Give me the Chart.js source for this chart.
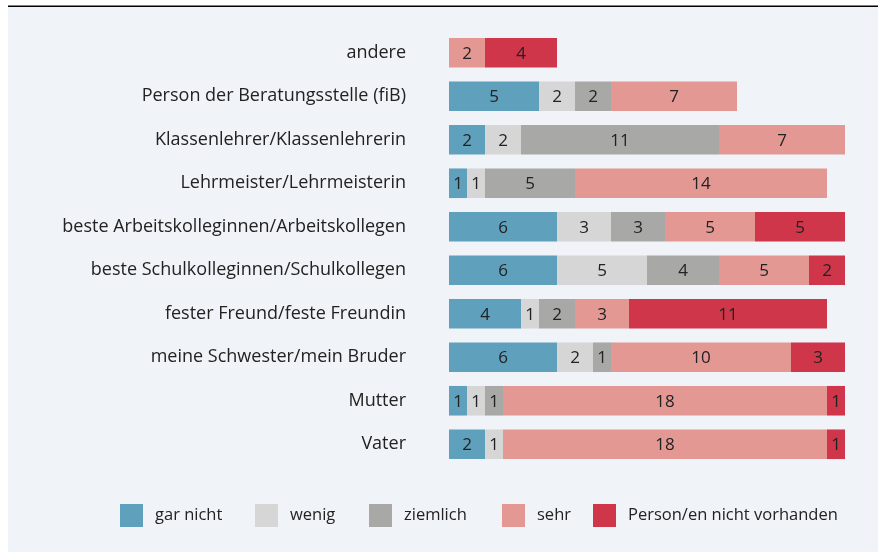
<!DOCTYPE html>
<html><head><meta charset="utf-8">
<script src="https://cdn.jsdelivr.net/npm/chart.js@4/dist/chart.umd.min.js"></script>
<style>html,body{margin:0;padding:0;background:#fff}#wrap{width:879px;height:552px;position:relative}canvas{display:block}</style>
</head><body><div id="wrap"><canvas id="c" width="879" height="552" style="width:879px;height:552px"></canvas></div>
<script>
const categories = [
  'andere',
  'Person der Beratungsstelle (fiB)',
  'Klassenlehrer/Klassenlehrerin',
  'Lehrmeister/Lehrmeisterin',
  'beste Arbeitskolleginnen/Arbeitskollegen',
  'beste Schulkolleginnen/Schulkollegen',
  'fester Freund/feste Freundin',
  'meine Schwester/mein Bruder',
  'Mutter',
  'Vater'
];
const seriesNames = ['gar nicht', 'wenig', 'ziemlich', 'sehr', 'Person/en nicht vorhanden'];
const garNicht       = [0, 5, 2, 1, 6, 6, 4, 6, 1, 2];
const wenig          = [0, 2, 2, 1, 3, 5, 1, 2, 1, 1];
const ziemlich       = [0, 2, 11, 5, 3, 4, 2, 1, 1, 0];
const sehr           = [2, 7, 7, 14, 5, 5, 3, 10, 18, 18];
const nichtVorhanden = [4, 0, 0, 0, 5, 2, 11, 3, 1, 1];
const axisRange = [0, 22];

const colors = ['#5fa1bd', '#d6d6d6', '#a8a8a6', '#e49893', '#d0364a'];
const legendBoxX = [120, 255, 369, 502, 593];
const FONT = "'Open Sans', 'DejaVu Sans', sans-serif";
const TEXT = '#222222';

const seriesValues = [garNicht, wenig, ziemlich, sehr, nichtVorhanden];
const datasets = seriesNames.map((n, i) => ({
  label: n,
  data: seriesValues[i],
  backgroundColor: colors[i],
  borderWidth: 0,
  barPercentage: 0.68,
  categoryPercentage: 1
}));

const bgPlugin = {
  id: 'bg',
  beforeDraw(chart) {
    const ctx = chart.ctx;
    ctx.save();
    ctx.fillStyle = '#ffffff';
    ctx.fillRect(0, 0, chart.width, chart.height);
    ctx.fillStyle = '#f0f3f8';
    ctx.fillRect(8, 7, 870, chart.height - 7);
    ctx.fillStyle = '#000000';
    ctx.fillRect(8, 5.5, 870, 1.5);
    ctx.restore();
  }
};

const valuePlugin = {
  id: 'values',
  afterDatasetsDraw(chart) {
    const ctx = chart.ctx;
    ctx.save();
    ctx.font = '17px ' + FONT;
    ctx.fillStyle = TEXT;
    ctx.textAlign = 'center';
    ctx.textBaseline = 'middle';
    chart.data.datasets.forEach((ds, di) => {
      const meta = chart.getDatasetMeta(di);
      meta.data.forEach((el, i) => {
        const v = ds.data[i];
        if (!v) return;
        const p = el.getProps(['x', 'y', 'base'], true);
        ctx.fillText(String(v), (p.x + p.base) / 2, p.y + 1);
      });
    });
    ctx.restore();
  }
};

const legendPlugin = {
  id: 'customLegend',
  afterDraw(chart) {
    const ctx = chart.ctx;
    ctx.save();
    ctx.font = '16.5px ' + FONT;
    ctx.textBaseline = 'middle';
    ctx.textAlign = 'left';
    const yc = 515.5, box = 23, gap = 12;
    chart.data.datasets.forEach((ds, i) => {
      const x = legendBoxX[i];
      ctx.fillStyle = ds.backgroundColor;
      ctx.fillRect(x, yc - box / 2, box, box);
      ctx.fillStyle = TEXT;
      ctx.fillText(ds.label, x + box + gap, yc);
    });
    ctx.restore();
  }
};

new Chart(document.getElementById('c'), {
  type: 'bar',
  data: { labels: categories, datasets },
  options: {
    indexAxis: 'y',
    responsive: false,
    animation: false,
    devicePixelRatio: 1,
    layout: { padding: { top: 31, bottom: 86, left: 0, right: 34 } },
    plugins: { legend: { display: false }, tooltip: { enabled: false } },
    scales: {
      x: { stacked: true, min: axisRange[0], max: axisRange[1], display: false },
      y: {
        stacked: true,
        grid: { display: false, drawTicks: false },
        border: { display: false },
        ticks: { color: TEXT, font: { family: FONT, size: 18 }, padding: 43 },
        afterFit(s) { s.width = 449; s.paddingTop = 0; s.paddingBottom = 0; }
      }
    }
  },
  plugins: [bgPlugin, valuePlugin, legendPlugin]
});
</script>
</body></html>
